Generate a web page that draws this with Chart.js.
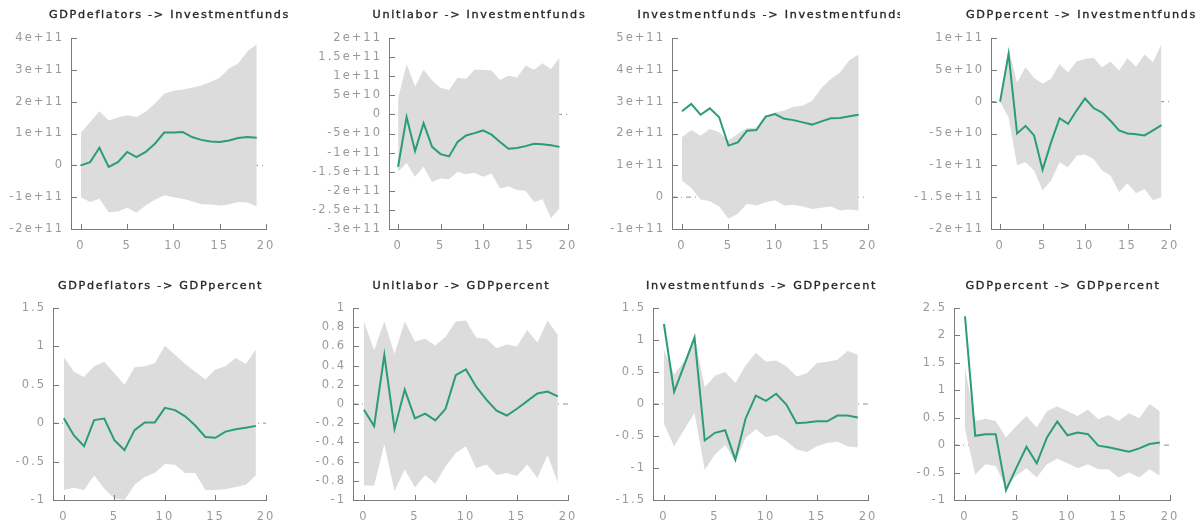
<!DOCTYPE html>
<html><head><meta charset="utf-8">
<script src="https://cdn.jsdelivr.net/npm/chart.js@4.4.1/dist/chart.umd.min.js"></script>
<style>
html,body{margin:0;padding:0;background:#fff;width:1203px;height:527px;overflow:hidden}
canvas{position:absolute}
</style>
</head><body>
<script>
// ---------- data ----------
const steps = [0,1,2,3,4,5,6,7,8,9,10,11,12,13,14,15,16,17,18,19];
const xTicks = [0,5,10,15,20];
const xMin = -1.07, xMax = 20;

const titles = [
  "GDPdeflators -> Investmentfunds",
  "Unitlabor -> Investmentfunds",
  "Investmentfunds -> Investmentfunds",
  "GDPpercent -> Investmentfunds",
  "GDPdeflators -> GDPpercent",
  "Unitlabor -> GDPpercent",
  "Investmentfunds -> GDPpercent",
  "GDPpercent -> GDPpercent"
];

// 1: GDPdeflators -> Investmentfunds
const resp1 = [0,0.1e11,0.55e11,-0.05e11,0.1e11,0.42e11,0.26e11,0.42e11,0.68e11,1.03e11,1.03e11,1.05e11,0.89e11,0.8e11,0.75e11,0.73e11,0.78e11,0.86e11,0.89e11,0.87e11];
const upper1 = [1.02e11,1.36e11,1.7e11,1.41e11,1.5e11,1.57e11,1.52e11,1.68e11,1.94e11,2.25e11,2.34e11,2.38e11,2.44e11,2.51e11,2.62e11,2.75e11,3.04e11,3.2e11,3.58e11,3.8e11];
const lower1 = [-1.0e11,-1.15e11,-1.05e11,-1.47e11,-1.45e11,-1.33e11,-1.49e11,-1.26e11,-1.08e11,-0.94e11,-1.0e11,-1.05e11,-1.13e11,-1.22e11,-1.23e11,-1.26e11,-1.23e11,-1.15e11,-1.17e11,-1.29e11];
const yTicks1 = [-2e11,-1e11,0,1e11,2e11,3e11,4e11];

// 2: Unitlabor -> Investmentfunds
const resp2 = [-1.37e11,-0.07e11,-0.96e11,-0.23e11,-0.85e11,-1.04e11,-1.1e11,-0.72e11,-0.55e11,-0.49e11,-0.42e11,-0.53e11,-0.72e11,-0.9e11,-0.88e11,-0.83e11,-0.77e11,-0.78e11,-0.81e11,-0.85e11];
const upper2 = [0.41e11,1.32e11,0.73e11,1.17e11,0.89e11,0.7e11,0.64e11,0.96e11,0.93e11,1.17e11,1.17e11,1.15e11,0.9e11,1.02e11,0.96e11,1.28e11,1.17e11,1.34e11,1.19e11,1.48e11];
const lower2 = [-1.5e11,-1.27e11,-1.63e11,-1.37e11,-1.77e11,-1.68e11,-1.7e11,-1.5e11,-1.57e11,-1.53e11,-1.63e11,-1.55e11,-1.94e11,-1.88e11,-1.98e11,-2.0e11,-2.29e11,-2.22e11,-2.72e11,-2.46e11];
const yTicks2 = [-3e11,-2.5e11,-2e11,-1.5e11,-1e11,-5e10,0,5e10,1e11,1.5e11,2e11];

// 3: Investmentfunds -> Investmentfunds
const resp3 = [2.7e11,2.93e11,2.59e11,2.79e11,2.51e11,1.62e11,1.72e11,2.09e11,2.11e11,2.53e11,2.61e11,2.46e11,2.42e11,2.35e11,2.28e11,2.38e11,2.48e11,2.49e11,2.54e11,2.59e11];
const upper3 = [1.88e11,2.11e11,1.93e11,2.14e11,2.04e11,1.78e11,1.99e11,2.17e11,2.19e11,2.56e11,2.66e11,2.72e11,2.84e11,2.87e11,3.03e11,3.43e11,3.71e11,3.92e11,4.3e11,4.49e11];
const lower3 = [0.52e11,0.29e11,-0.07e11,-0.13e11,-0.29e11,-0.68e11,-0.52e11,-0.21e11,-0.26e11,-0.16e11,-0.1e11,-0.26e11,-0.24e11,-0.29e11,-0.37e11,-0.33e11,-0.29e11,-0.42e11,-0.39e11,-0.42e11];
const yTicks3 = [-1e11,0,1e11,2e11,3e11,4e11,5e11];

// 4: GDPpercent -> Investmentfunds
const resp4 = [0,0.75e11,-0.5e11,-0.38e11,-0.53e11,-1.07e11,-0.64e11,-0.26e11,-0.35e11,-0.14e11,0.05e11,-0.1e11,-0.17e11,-0.3e11,-0.45e11,-0.5e11,-0.51e11,-0.53e11,-0.45e11,-0.37e11];
const upper4 = [0,0.83e11,0.3e11,0.54e11,0.37e11,0.28e11,0.36e11,0.59e11,0.46e11,0.63e11,0.67e11,0.69e11,0.54e11,0.63e11,0.49e11,0.68e11,0.55e11,0.74e11,0.62e11,0.9e11];
const lower4 = [0,-0.25e11,-1.0e11,-0.95e11,-1.08e11,-1.39e11,-1.24e11,-0.95e11,-1.03e11,-0.85e11,-0.83e11,-0.9e11,-1.08e11,-1.16e11,-1.42e11,-1.28e11,-1.44e11,-1.37e11,-1.55e11,-1.5e11];
const yTicks4 = [-2e11,-1.5e11,-1e11,-5e10,0,5e10,1e11];

// 5: GDPdeflators -> GDPpercent
const resp5 = [0.065,-0.16,-0.3,0.04,0.06,-0.22,-0.35,-0.09,0.01,0.01,0.2,0.17,0.09,-0.03,-0.18,-0.19,-0.11,-0.08,-0.06,-0.035];
const upper5 = [0.86,0.67,0.6,0.74,0.8,0.65,0.5,0.73,0.74,0.78,1.01,0.89,0.77,0.67,0.57,0.7,0.74,0.85,0.77,0.96];
const lower5 = [-0.87,-0.84,-0.87,-0.68,-0.85,-0.98,-1.0,-0.8,-0.7,-0.65,-0.53,-0.54,-0.65,-0.65,-0.87,-0.87,-0.86,-0.83,-0.8,-0.68];
const yTicks5 = [-1,-0.5,0,0.5,1,1.5];

// 6: Unitlabor -> GDPpercent
const resp6 = [-0.06,-0.23,0.51,-0.26,0.15,-0.15,-0.1,-0.17,-0.05,0.3,0.36,0.18,0.045,-0.07,-0.12,-0.05,0.03,0.11,0.13,0.08];
const upper6 = [0.86,0.56,0.86,0.52,0.86,0.65,0.68,0.61,0.7,0.86,0.87,0.69,0.68,0.58,0.62,0.6,0.77,0.64,0.87,0.72];
const lower6 = [-0.85,-0.85,-0.42,-0.91,-0.68,-0.87,-0.74,-0.83,-0.65,-0.51,-0.44,-0.67,-0.63,-0.74,-0.72,-0.75,-0.63,-0.77,-0.53,-0.82];
const yTicks6 = [-1,-0.8,-0.6,-0.4,-0.2,0,0.2,0.4,0.6,0.8,1];

// 7: Investmentfunds -> GDPpercent
const resp7 = [1.25,0.19,0.61,1.04,-0.57,-0.45,-0.41,-0.87,-0.23,0.13,0.05,0.16,-0.01,-0.3,-0.29,-0.27,-0.27,-0.18,-0.18,-0.21];
const upper7 = [0.85,0.46,0.67,1.06,0.26,0.44,0.5,0.33,0.6,0.8,0.66,0.68,0.59,0.43,0.48,0.64,0.66,0.69,0.83,0.77];
const lower7 = [-0.31,-0.66,-0.4,-0.14,-1.03,-0.79,-0.64,-0.9,-0.53,-0.39,-0.52,-0.48,-0.58,-0.71,-0.75,-0.66,-0.61,-0.59,-0.66,-0.68];
const yTicks7 = [-1.5,-1,-0.5,0,0.5,1,1.5];

// 8: GDPpercent -> GDPpercent
const resp8 = [2.35,0.17,0.2,0.2,-0.82,-0.42,-0.03,-0.33,0.14,0.43,0.18,0.23,0.2,-0.01,-0.04,-0.08,-0.12,-0.06,0.02,0.05];
const upper8 = [1.4,0.44,0.48,0.44,0.14,0.35,0.53,0.32,0.62,0.71,0.62,0.53,0.65,0.47,0.55,0.44,0.58,0.49,0.75,0.62];
const lower8 = [0.3,-0.54,-0.35,-0.38,-0.77,-0.56,-0.42,-0.59,-0.35,-0.25,-0.33,-0.42,-0.35,-0.44,-0.44,-0.59,-0.5,-0.59,-0.44,-0.56];
const yTicks8 = [-1,-0.5,0,0.5,1,1.5,2,2.5];

// ---------- layout (canvas box and plot area, page pixels) ----------
const layoutBoxes = [
  {box:[0,0,300,262],   area:[71,38,266,229],   titleY:15},
  {box:[300,0,300,262], area:[389,38,568,229],  titleY:15},
  {box:[600,0,300,262], area:[672,38,868,229],  titleY:15},
  {box:[900,0,303,262], area:[991,38,1170,229], titleY:15},
  {box:[0,262,300,265],   area:[53,308,266,500],   titleY:286},
  {box:[300,262,300,265], area:[353,308,568,500],  titleY:286},
  {box:[600,262,300,265], area:[653,308,868,500],  titleY:286},
  {box:[900,262,303,265], area:[954,308,1170,500], titleY:286}
];

const series = [
  [resp1,upper1,lower1,yTicks1],[resp2,upper2,lower2,yTicks2],
  [resp3,upper3,lower3,yTicks3],[resp4,upper4,lower4,yTicks4],
  [resp5,upper5,lower5,yTicks5],[resp6,upper6,lower6,yTicks6],
  [resp7,upper7,lower7,yTicks7],[resp8,upper8,lower8,yTicks8]
];

// ---------- styles ----------
const LINE_COLOR = '#2a9d74';
const BAND_COLOR = '#dcdcdc';
const AXIS_COLOR = '#7a7a7a';
const LABEL_COLOR = '#9a9a9a';
const TITLE_COLOR = '#262626';
const FONT = '"DejaVu Sans", Verdana, sans-serif';

function fmt(v){
  if (v === 0) return '0';
  const r = Number(v.toPrecision(6));
  if (Math.abs(r) >= 1e6) return r.toExponential();
  return String(r);
}

const decor = {
  id: 'decor',
  beforeUpdate(chart){ chart.ctx.letterSpacing = '2px'; },
  beforeDraw(chart){ chart.ctx.letterSpacing = '2px'; },
  afterDraw(chart, args, opts){
    const ctx = chart.ctx, a = chart.chartArea, xs = chart.scales.x, ys = chart.scales.y;
    ctx.save();
    ctx.strokeStyle = AXIS_COLOR; ctx.lineWidth = 1;
    ctx.beginPath();
    xs.ticks.forEach(t => {
      const px = Math.round(xs.getPixelForValue(t.value)) + 0.5;
      ctx.moveTo(px, a.bottom); ctx.lineTo(px, a.bottom - 5);
    });
    ys.ticks.forEach(t => {
      const py = Math.round(ys.getPixelForValue(t.value)) + 0.5;
      ctx.moveTo(a.left, py); ctx.lineTo(a.left + 6, py);
    });
    ctx.stroke();
    ctx.letterSpacing = '1.7px';
    ctx.font = '11.2px ' + FONT;
    ctx.fillStyle = TITLE_COLOR;
    ctx.strokeStyle = TITLE_COLOR;
    ctx.lineWidth = 0.35;
    ctx.textAlign = 'center'; ctx.textBaseline = 'middle';
    const tx = (a.left + a.right) / 2 + 1;
    ctx.fillText(opts.text, tx, opts.ty);
    ctx.strokeText(opts.text, tx, opts.ty);
    ctx.restore();
  }
};

series.forEach((s, i) => {
  const [resp, up, lo, yT] = s;
  const L = layoutBoxes[i];
  const [bx, by, bw, bh] = L.box;
  const [al, at, ar, ab] = L.area;
  const cv = document.createElement('canvas');
  cv.width = bw; cv.height = bh;
  cv.style.left = bx + 'px'; cv.style.top = by + 'px';
  cv.style.width = bw + 'px'; cv.style.height = bh + 'px';
  document.body.appendChild(cv);
  const pts = arr => steps.map((x, k) => ({x: x, y: arr[k]}));
  new Chart(cv, {
    type: 'line',
    data: {
      datasets: [
        {data: pts(resp), borderColor: LINE_COLOR, borderWidth: 2, pointRadius: 0, tension: 0, fill: false},
        {data: pts(up), borderColor: 'rgba(0,0,0,0)', borderWidth: 1, pointRadius: 0, tension: 0, backgroundColor: BAND_COLOR, fill: '+1'},
        {data: pts(lo), borderColor: 'rgba(0,0,0,0)', borderWidth: 1, pointRadius: 0, tension: 0, fill: false},
        {data: [{x: xMin, y: 0}, {x: xMax, y: 0}], borderColor: '#8f8f8f', borderWidth: 1, borderDash: [5,4,1,4], pointRadius: 0, fill: false}
      ]
    },
    options: {
      responsive: false, animation: false, events: [],
      devicePixelRatio: 1,
      layout: {padding: {left: 0, top: at - by, right: bx + bw - ar, bottom: 0}},
      plugins: {legend: {display: false}, tooltip: {enabled: false}, title: {display: false}, decor: {text: titles[i], ty: L.titleY - by}},
      scales: {
        x: {
          type: 'linear', min: xMin, max: xMax,
          afterBuildTicks: sc => { sc.ticks = xTicks.map(v => ({value: v})); },
          afterFit: sc => { sc.height = by + bh - ab; },
          grid: {display: false, drawTicks: false},
          border: {display: true, color: AXIS_COLOR, width: 1},
          ticks: {autoSkip: false, maxRotation: 0, padding: 10, color: LABEL_COLOR, font: {family: FONT, size: 11.5}, callback: v => fmt(v)}
        },
        y: {
          type: 'linear', min: yT[0], max: yT[yT.length - 1],
          afterBuildTicks: sc => { sc.ticks = yT.map(v => ({value: v})); },
          afterFit: sc => { sc.width = al - bx; },
          grid: {display: false, drawTicks: false},
          border: {display: true, color: AXIS_COLOR, width: 1},
          ticks: {autoSkip: false, padding: 7, color: LABEL_COLOR, font: {family: FONT, size: 11.5}, callback: v => fmt(v)}
        }
      }
    },
    plugins: [decor]
  });
});
</script>
</body></html>
